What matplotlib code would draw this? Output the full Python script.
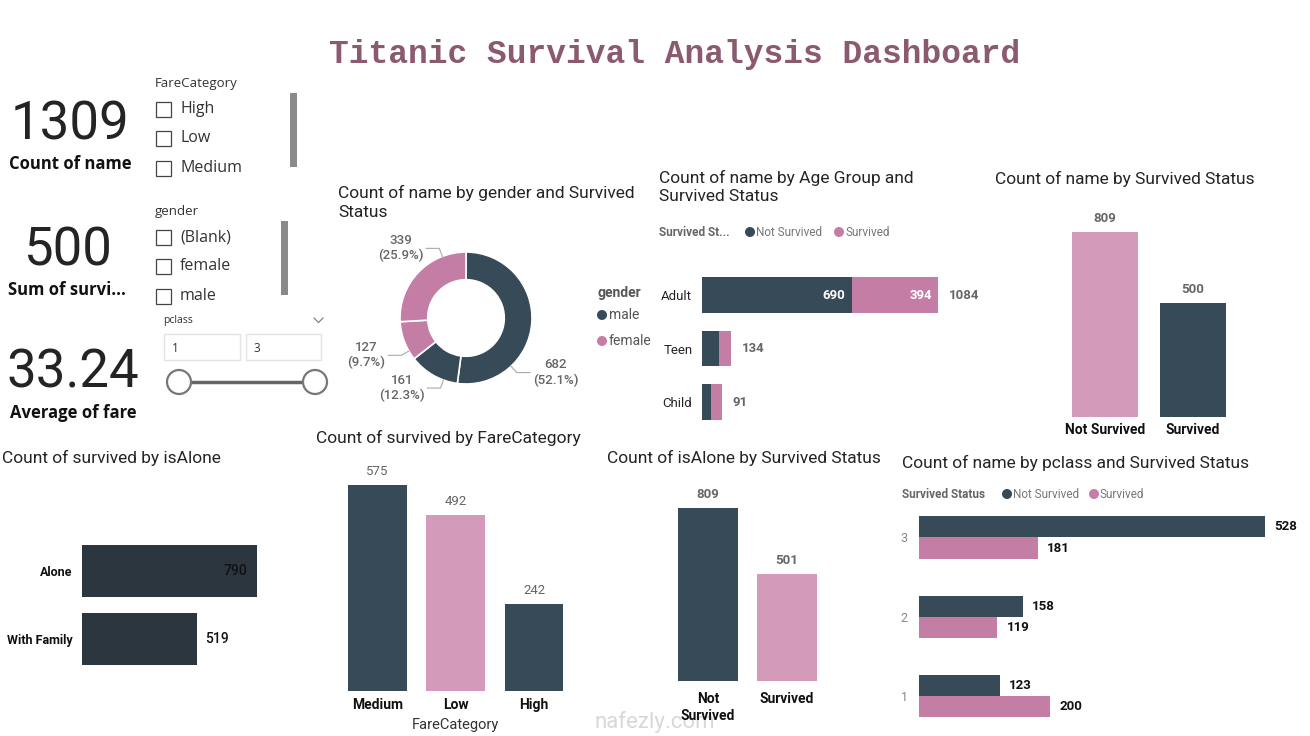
import numpy as np
import matplotlib
matplotlib.use("Agg")
import matplotlib.pyplot as plt
from matplotlib.patches import Rectangle, Circle

# ---- data ----
kpi_values = ["1309", "500", "33.24"]
kpi_labels = ["Count of name", "Sum of survi...", "Average of fare"]

fare_slicer_items = ["High", "Low", "Medium"]
gender_slicer_items = ["(Blank)", "female", "male"]
pclass_range = ["1", "3"]

donut_counts = [682, 161, 127, 339]
donut_gender = ["male", "male", "female", "female"]

age_groups = ["Adult", "Teen", "Child"]
age_not_survived = [690, 78, 41]
age_survived = [394, 56, 50]

status_names = ["Not Survived", "Survived"]
status_counts = [809, 500]

alone_groups = ["Alone", "With Family"]
alone_counts = [790, 519]

fare_cats = ["Medium", "Low", "High"]
fare_counts = [575, 492, 242]

alone_status_counts = [809, 501]

pclasses = ["3", "2", "1"]
pclass_not_survived = [528, 158, 123]
pclass_survived = [181, 119, 200]

# ---- style ----
DARK = "#374A57"
DARKER = "#2C363F"
PINK = "#C47EA6"
PINK_LIGHT = "#D39AB9"
TITLE_C = "#8B5A70"
TXT = "#252423"
GREY = "#666666"
FONT = "Roboto"
UI = "Open Sans"

W, H = 1310, 736
fig = plt.figure(figsize=(W / 100, H / 100), dpi=100)
fig.patch.set_facecolor("white")

# pixel overlay for decorations / text
bg = fig.add_axes([0, 0, 1, 1], zorder=0)
bg.set_xlim(0, W)
bg.set_ylim(H, 0)
bg.axis("off")


def px_ax(l, t, r, b):
    ax = fig.add_axes([l / W, 1 - b / H, (r - l) / W, (b - t) / H], zorder=2)
    ax.set_facecolor("none")
    for s in ax.spines.values():
        s.set_visible(False)
    ax.tick_params(length=0)
    return ax


def txt(x, y, s, size=10, color=TXT, family=FONT, weight="normal", ha="left", va="center", **kw):
    bg.text(x, y, s, fontsize=size, color=color, family=family, weight=weight, ha=ha, va=va, **kw)


# ---- main title ----
txt(675, 55, "Titanic Survival Analysis Dashboard", size=23.7, color=TITLE_C,
    family="Liberation Mono", weight="bold", ha="center")

# ---- KPI cards ----
kpi_pos = [(70, 139, 164), (67, 265, 290), (73, 387, 413)]
for (cx, base, ly), v, lab in zip(kpi_pos, kpi_values, kpi_labels):
    txt(cx, base, v, size=38, family=FONT, ha="center", va="baseline")
    txt(cx, ly, lab, size=12, family=UI, weight="bold", color="#111111", ha="center")

# ---- slicers ----
def slicer(title, items, ty, ys, sb):
    txt(155, ty, title, size=9.5, family=UI, color="#333333")
    for it, y in zip(items, ys):
        bg.add_patch(Rectangle((156, y - 7.5), 15, 15, facecolor="white", edgecolor="#444444", lw=0.9))
        txt(180, y, it, size=11.5, family=UI, color="#333333")
    bg.add_patch(Rectangle((sb[0], sb[1]), 7, sb[2] - sb[1], facecolor="#8a8a8a", edgecolor="none"))


slicer("FareCategory", fare_slicer_items, 83, [109, 138, 168], (290, 93, 167))
slicer("gender", gender_slicer_items, 211, [237, 266, 296], (281, 221, 295))

txt(163, 321, "pclass", size=7.5, family=UI, color="#333333")
bg.plot([314, 318.5, 323], [318, 322.5, 318], color="#777777", lw=0.8)
for (x0, x1), v in zip([(164, 240), (246, 321)], pclass_range):
    bg.add_patch(Rectangle((x0, 334), x1 - x0, 26, facecolor="white", edgecolor="#e3e3e3", lw=1))
    txt(x0 + 8, 348, v, size=8.5, family=UI, color="#333333")
bg.plot([179, 315], [382, 382], color="#666666", lw=2.5, zorder=1)
for cx in (179, 315):
    bg.add_patch(Circle((cx, 382), 12, facecolor="white", edgecolor="#777777", lw=1.6, zorder=2))

# ---- donut: gender x survived ----
txt(338, 185, "Count of name by gender and Survived\nStatus", size=12.5, va="top", linespacing=1.3)
R = 66
axd = px_ax(466 - 100, 318 - 100, 466 + 100, 318 + 100)
dcolors = [DARK if g == "male" else PINK for g in donut_gender]
axd.pie(donut_counts, colors=dcolors, startangle=90, counterclock=False, radius=1,
        wedgeprops=dict(width=0.42, edgecolor="white", linewidth=1.2))
axd.set_xlim(-100 / R, 100 / R)
axd.set_ylim(-100 / R, 100 / R)
axd.set_aspect("equal")
axd.axis("off")
total = sum(donut_counts)
label_angles = [-47, -110, -150, 111]
for c, a in zip(donut_counts, label_angles):
    ar = np.deg2rad(a)
    p0 = np.array([np.cos(ar), np.sin(ar)])
    p1 = p0 * 1.13
    sgn = 1 if np.cos(ar) > 0 else -1
    p2 = p1 + np.array([0.2 * sgn, 0])
    axd.plot([p0[0], p1[0], p2[0]], [p0[1], p1[1], p2[1]], color="#aaaaaa", lw=0.8, clip_on=False)
    axd.text(p2[0] + 0.04 * sgn, p2[1], f"{c}\n({c / total * 100:.1f}%)", ha="left" if sgn > 0 else "right",
             va="center", multialignment="center", fontsize=9.5, color=GREY, family=FONT, weight="medium",
             linespacing=1.2, clip_on=False)

txt(597, 293, "gender", size=10, weight="bold", color="#555555")
for y, lab, col in [(315, "male", DARK), (341, "female", PINK)]:
    bg.add_patch(Circle((602, y), 5, facecolor=col, edgecolor="none"))
    txt(609, y, lab, size=10, color="#555555")

# ---- age group stacked bars ----
txt(659, 170, "Count of name by Age Group and\nSurvived Status", size=12.5, va="top", linespacing=1.25)
txt(659, 232, "Survived St...", size=8.5, weight="bold", color="#666666")
for x, lab, col in [(750, "Not Survived", DARK), (839, "Survived", PINK)]:
    bg.add_patch(Circle((x, 232), 5, facecolor=col, edgecolor="none"))
    txt(x + 6, 232, lab, size=8.5, color="#777777")

axa = px_ax(702, 268, 938, 428)
ypos = np.arange(len(age_groups))[::-1]
axa.barh(ypos, age_not_survived, height=0.67, color=DARK)
axa.barh(ypos, age_survived, left=age_not_survived, height=0.67, color=PINK)
axa.set_xlim(0, age_not_survived[0] + age_survived[0])
axa.set_ylim(-0.486, 2.505)
axa.set_xticks([])
axa.set_yticks(ypos)
axa.set_yticklabels(age_groups, fontsize=9.5, family=FONT, color=TXT)
axa.tick_params(axis="y", pad=7)
for y, n, s in zip(ypos, age_not_survived, age_survived):
    tot = n + s
    axa.annotate(str(tot), (tot, y), xytext=(8, 0), textcoords="offset points", va="center",
                 fontsize=9.5, weight="bold", color=GREY, family=FONT, annotation_clip=False)
    if n > 300:
        axa.annotate(str(n), (n, y), xytext=(-5, 0), textcoords="offset points", va="center", ha="right",
                     fontsize=9.5, weight="bold", color="white", family=FONT)
        axa.annotate(str(s), (tot, y), xytext=(-4, 0), textcoords="offset points", va="center", ha="right",
                     fontsize=9.5, weight="bold", color="white", family=FONT)

# ---- survived status columns (top right) ----
txt(995, 179, "Count of name by Survived Status", size=12.5)
axs = px_ax(1061, 200, 1237, 417)
xs = np.arange(len(status_names))
bars = axs.bar(xs, status_counts, width=0.75, color=[PINK_LIGHT, DARK])
axs.bar_label(bars, padding=5, fontsize=9.5, weight="bold", color=GREY, family=FONT)
axs.set_xlim(-0.5, 1.5)
axs.set_ylim(0, 809 * 217 / 185)
axs.set_yticks([])
axs.set_xticks(xs)
axs.set_xticklabels(status_names, fontsize=10, weight="bold", family=FONT, color="#111111")
axs.tick_params(axis="x", pad=4)

# ---- survived by isAlone (bottom left) ----
txt(2, 458, "Count of survived by isAlone", size=12.5)
axi = px_ax(82, 530, 257, 680)
yi = np.arange(len(alone_groups))[::-1]
axi.barh(yi, alone_counts, height=0.765, color=DARKER)
axi.set_xlim(0, max(alone_counts))
axi.set_ylim(-0.603, 1.603)
axi.set_xticks([])
axi.set_yticks(yi)
axi.set_yticklabels(alone_groups, fontsize=9, weight="bold", family=FONT, color="#111111")
axi.tick_params(axis="y", pad=7)
for y, v in zip(yi, alone_counts):
    inside = v == max(alone_counts)
    axi.annotate(str(v), (v, y), xytext=(-7 if inside else 6, 0), textcoords="offset points",
                 ha="right" if inside else "left", va="center", fontsize=10, color="#111111",
                 family=FONT, weight="medium", annotation_clip=False)

# ---- survived by FareCategory ----
txt(316, 438, "Count of survived by FareCategory", size=12.5)
axf = px_ax(338.25, 460, 573.25, 691)
xf = np.arange(len(fare_cats))
bars = axf.bar(xf, fare_counts, width=0.75, color=[DARK, PINK_LIGHT, DARK])
axf.bar_label(bars, padding=5, fontsize=9.5, color=GREY, family=FONT)
axf.set_xlim(-0.5, 2.5)
axf.set_ylim(0, 575 * 231 / 206)
axf.set_yticks([])
axf.set_xticks(xf)
axf.set_xticklabels(fare_cats, fontsize=10, weight="bold", family=FONT, color="#111111")
axf.tick_params(axis="x", pad=5)
axf.set_xlabel("FareCategory", fontsize=10.5, family=FONT, color="#333333", labelpad=4)

# ---- isAlone by survived status ----
txt(607, 458, "Count of isAlone by Survived Status", size=12.5)
axb = px_ax(668.5, 478, 826.5, 681)
xb = np.arange(len(status_names))
bars = axb.bar(xb, alone_status_counts, width=0.76, color=[DARK, PINK_LIGHT])
axb.bar_label(bars, padding=5, fontsize=9.5, weight="bold", color=GREY, family=FONT)
axb.set_xlim(-0.5, 1.5)
axb.set_ylim(0, 809 * 203 / 173)
axb.set_yticks([])
axb.set_xticks(xb)
axb.set_xticklabels(["Not\nSurvived", "Survived"], fontsize=10, weight="bold", family=FONT,
                    color="#111111", linespacing=1.3)
axb.tick_params(axis="x", pad=8)

# ---- pclass grouped bars ----
txt(902, 463, "Count of name by pclass and Survived Status", size=12.5)
txt(902, 494, "Survived Status", size=8.5, weight="bold", color="#666666")
for x, lab, col in [(1007, "Not Survived", DARK), (1094, "Survived", PINK)]:
    bg.add_patch(Circle((x, 494), 5, facecolor=col, edgecolor="none"))
    txt(x + 6, 494, lab, size=8.5, color="#777777")

axp = px_ax(919, 505, 1265, 725)
yp = np.arange(len(pclasses))[::-1].astype(float)
bh = 0.266
b1 = axp.barh(yp + bh / 2, pclass_not_survived, height=bh, color=DARK)
b2 = axp.barh(yp - bh / 2, pclass_survived, height=bh, color=PINK)
for bb in (b1, b2):
    axp.bar_label(bb, padding=7, fontsize=9.5, weight="bold", color="#111111", family=FONT)
axp.set_xlim(0, max(pclass_not_survived))
axp.set_ylim(-0.367, 2.41)
axp.set_xticks([])
axp.set_yticks(yp)
axp.set_yticklabels(pclasses, fontsize=9, color="#888888", family=FONT)
axp.tick_params(axis="y", pad=8)
for t in axp.texts:
    t.set_clip_on(False)

# watermark
txt(655, 722, "nafezly.com", size=16, color="#d8d8d8", ha="center", zorder=5)

fig.savefig("out.png", dpi=100, facecolor="white")
